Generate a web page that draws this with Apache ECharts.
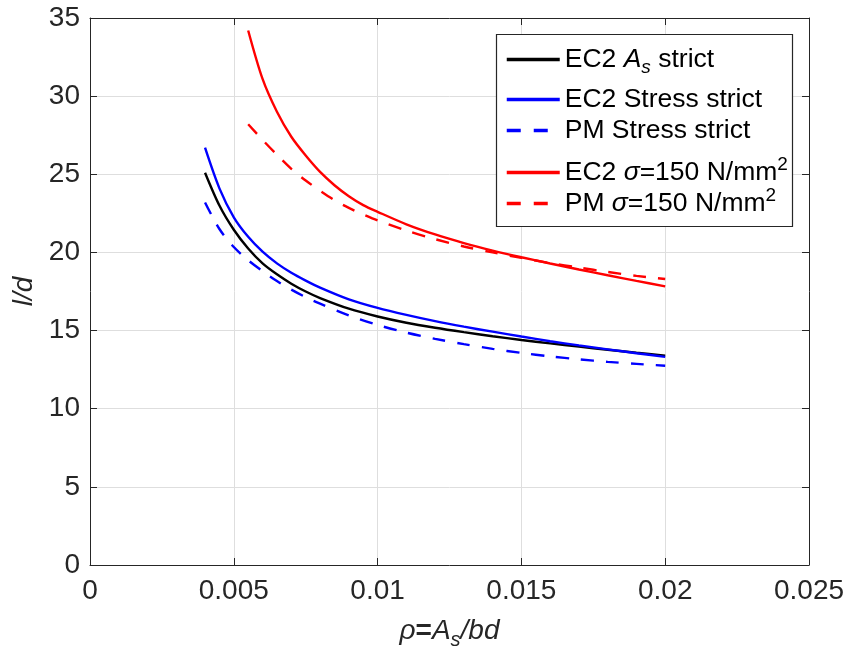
<!DOCTYPE html>
<html><head><meta charset="utf-8">
<script src="https://cdn.jsdelivr.net/npm/echarts@6/dist/echarts.min.js"></script>
<style>html,body{margin:0;padding:0;background:#fff}#c{width:851px;height:661px}</style>
</head><body><div id="c"></div>
<script>
// ---- data ----
const rhoStress = [0.004, 0.0045, 0.005, 0.0055, 0.006, 0.0065, 0.007, 0.0075, 0.008, 0.009, 0.01, 0.011, 0.012, 0.013, 0.014, 0.015, 0.016, 0.017, 0.018, 0.019, 0.02];
const ec2AsStrict     = [25.1, 23.0, 21.45, 20.25, 19.3, 18.6, 18.0, 17.5, 17.08, 16.4, 15.9, 15.5, 15.18, 14.9, 14.64, 14.4, 14.18, 13.97, 13.77, 13.58, 13.4];
const ec2StressStrict = [26.7, 24.1, 22.25, 21.0, 20.05, 19.3, 18.7, 18.2, 17.75, 17.0, 16.45, 16.0, 15.6, 15.25, 14.93, 14.62, 14.32, 14.05, 13.8, 13.55, 13.32];
const pmStressStrict  = [23.2, 21.5, 20.35, 19.5, 18.8, 18.17, 17.62, 17.14, 16.72, 15.97, 15.36, 14.87, 14.47, 14.13, 13.83, 13.57, 13.35, 13.16, 13.0, 12.87, 12.75];
const rhoSigma = [0.0055, 0.006, 0.0065, 0.007, 0.0075, 0.008, 0.0085, 0.009, 0.0095, 0.01, 0.011, 0.012, 0.013, 0.014, 0.015, 0.016, 0.017, 0.018, 0.019, 0.02];
const ec2Sigma150 = [34.2, 31.1, 29.0, 27.4, 26.2, 25.15, 24.3, 23.6, 23.03, 22.6, 21.8, 21.15, 20.6, 20.12, 19.69, 19.29, 18.91, 18.54, 18.18, 17.83];
const pmSigma150  = [28.2, 27.2, 26.25, 25.35, 24.6, 23.95, 23.35, 22.85, 22.43, 22.05, 21.4, 20.85, 20.38, 20.0, 19.65, 19.32, 19.03, 18.75, 18.5, 18.3];
const seriesNames = ['EC2 As strict', 'EC2 Stress strict', 'PM Stress strict', 'EC2 sigma=150', 'PM sigma=150'];
const legendLabels = {
  'EC2 As strict': 'EC2 {i|A}{sub|s} strict',
  'EC2 Stress strict': 'EC2 Stress strict',
  'PM Stress strict': 'PM Stress strict',
  'EC2 sigma=150': 'EC2 {i|σ}=150 N/mm{sup|2}',
  'PM sigma=150': 'PM {i|σ}=150 N/mm{sup|2}'
};
const xMin = 0, xMax = 0.025, xStep = 0.005;
const yMin = 0, yMax = 35, yStep = 5;

const FONT = 'Liberation Sans, Arial, sans-serif';
const AX = '#262626';
const zip = (xs, ys) => xs.map((x, i) => [x, ys[i]]);

const lineSeries = (name, xs, ys, color, dashed) => ({
  name, type: 'line', data: zip(xs, ys), showSymbol: false, symbol: 'none',
  smooth: 0.3, z: 3,
  lineStyle: { color, width: 2.4, type: dashed ? [13, 12] : 'solid' },
  itemStyle: { color }
});

const LF = 26.5;
const legRich = {
  i: { fontStyle: 'italic', fontSize: LF, fontFamily: FONT, color: '#000' },
  sub: { fontStyle: 'italic', fontSize: 19, fontFamily: FONT, color: '#000', padding: [16, 0, 0, 0] },
  sup: { fontSize: 19, fontFamily: FONT, color: '#000', padding: [0, 0, 16, 0] }
};
const legendTops = [46, 86, 117, 155, 186];
const legendDashed = [false, false, true, false, true];
const legends = seriesNames.map((n, k) => ({
  data: [n], left: 505, top: legendTops[k], padding: 0, z: 6,
  itemWidth: 53, itemHeight: 14, itemGap: 0,
  selectedMode: false,
  lineStyle: { width: 3.5, type: legendDashed[k] ? [14, 13] : 'solid' },
  itemStyle: { opacity: 0 },
  formatter: name => legendLabels[name],
  textStyle: { fontSize: LF, fontFamily: FONT, color: '#000', rich: legRich }
}));

const axisCommon = {
  type: 'value',
  axisLine: { show: true, onZero: false, lineStyle: { color: AX, width: 1 } },
  axisTick: { show: true, inside: true, length: 7, lineStyle: { color: AX, width: 1 } }
};

const option = {
  backgroundColor: '#fff',
  animation: false,
  grid: { left: 90, right: 42, top: 18, bottom: 96, containLabel: false },
  legend: legends,
  graphic: [{
    type: 'rect', z: 5, shape: { x: 496.5, y: 34.5, width: 296, height: 192 },
    style: { fill: '#fff', stroke: AX, lineWidth: 1.2 }
  }],
  xAxis: [
    Object.assign({}, axisCommon, {
      position: 'bottom', min: xMin, max: xMax, interval: xStep,
      axisLabel: { fontSize: 28, fontFamily: FONT, color: AX, margin: 12 },
      splitLine: { show: true, lineStyle: { color: '#dedede', width: 1 } },
      name: '{i|ρ}{b|=}{i|A}{sub|s}{i|/bd}', nameLocation: 'middle', nameGap: 47,
      nameTextStyle: { fontSize: 28, fontFamily: FONT, color: AX, rich: {
        i: { fontStyle: 'italic', fontSize: 28, fontFamily: FONT, color: AX },
        b: { fontWeight: 'bold', fontSize: 28, fontFamily: FONT, color: AX },
        sub: { fontStyle: 'italic', fontSize: 20, fontFamily: FONT, color: AX, padding: [18, 0, 0, 0] }
      } }
    }),
    Object.assign({}, axisCommon, {
      position: 'top', min: xMin, max: xMax, interval: xStep,
      axisLabel: { show: false }, splitLine: { show: false }
    })
  ],
  yAxis: [
    Object.assign({}, axisCommon, {
      position: 'left', min: yMin, max: yMax, interval: yStep,
      axisLabel: { fontSize: 28, fontFamily: FONT, color: AX, margin: 10 },
      splitLine: { show: true, lineStyle: { color: '#dedede', width: 1 } },
      name: 'l/d', nameLocation: 'middle', nameGap: 46, nameRotate: 90,
      nameTextStyle: { fontSize: 28, fontStyle: 'italic', fontFamily: FONT, color: AX }
    }),
    Object.assign({}, axisCommon, {
      position: 'right', min: yMin, max: yMax, interval: yStep,
      axisLabel: { show: false }, splitLine: { show: false }
    })
  ],
  series: [
    lineSeries(seriesNames[0], rhoStress, ec2AsStrict, '#000000', false),
    lineSeries(seriesNames[1], rhoStress, ec2StressStrict, '#0000ff', false),
    lineSeries(seriesNames[2], rhoStress, pmStressStrict, '#0000ff', true),
    lineSeries(seriesNames[3], rhoSigma, ec2Sigma150, '#ff0000', false),
    lineSeries(seriesNames[4], rhoSigma, pmSigma150, '#ff0000', true)
  ]
};
const chart = echarts.init(document.getElementById('c'), null, { renderer: 'canvas' });
chart.setOption(option);
</script></body></html>
